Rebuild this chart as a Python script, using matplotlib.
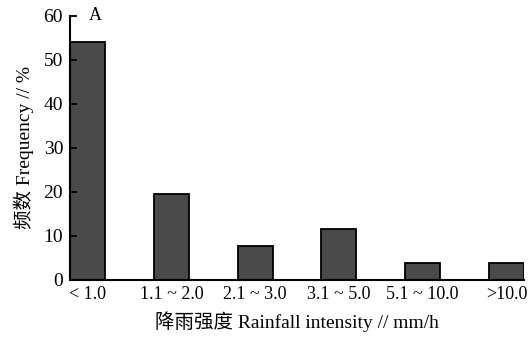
import numpy as np
import matplotlib.pyplot as plt

# 降雨强度分级与频数
categories = ['< 1.0', '1.1 ~ 2.0', '2.1 ~ 3.0', '3.1 ~ 5.0', '5.1 ~ 10.0', '>10.0']
frequency = [54.0, 19.5, 7.7, 11.6, 3.8, 3.8]

fonts = ['Liberation Serif', 'Noto Sans CJK SC']
plt.rcParams['font.family'] = fonts

fig = plt.figure(figsize=(5.28, 3.38), dpi=100)
ax = fig.add_axes([0.1326, 0.1716, 0.8598, 0.7811])

x = np.arange(len(categories))
ax.bar(x, frequency, width=0.42, color='#4a4a4a', edgecolor='black', linewidth=1.3)

ax.set_xlim(-0.21, 5.21)
ax.set_ylim(0, 60)
ax.set_yticks([0, 10, 20, 30, 40, 50, 60])
ax.tick_params(axis='y', direction='in', length=5, width=1.3, labelsize=14, pad=5)
ax.set_xticks(x)
ax.set_xticklabels(categories)
ax.tick_params(axis='x', length=0, labelsize=13, pad=4)

for s in ['top', 'right']:
    ax.spines[s].set_visible(False)
for s in ['left', 'bottom']:
    ax.spines[s].set_linewidth(1.5)

ax.set_xlabel('降雨强度 Rainfall intensity // mm/h', fontsize=14, labelpad=6)
ax.set_ylabel('频数 Frequency // %', fontsize=14, labelpad=7)
ax.text(0.055, 1.0, 'A', transform=ax.transAxes, ha='center', va='center', fontsize=13)

fig.savefig('out.png', dpi=100)
